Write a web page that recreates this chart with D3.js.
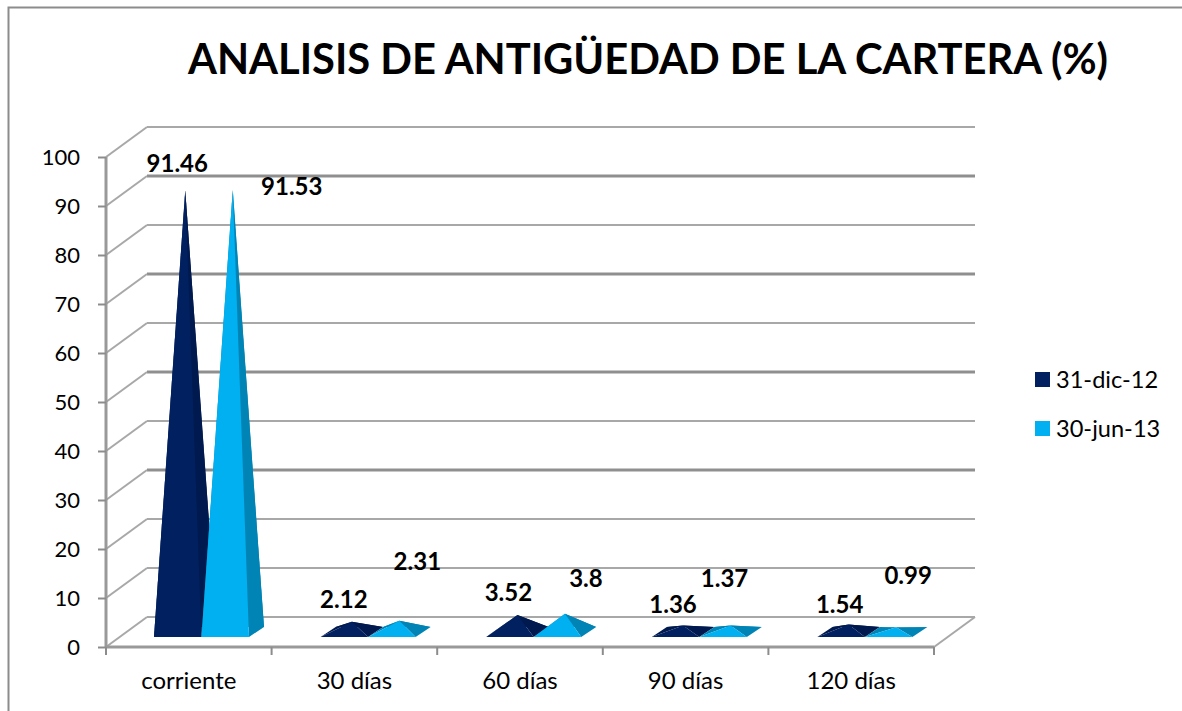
<!DOCTYPE html>
<html><head><meta charset="utf-8">
<script src="https://cdn.jsdelivr.net/npm/d3@7"></script>
<style>html,body{margin:0;padding:0;background:#fff;overflow:hidden}svg{display:block}text{font-family:Lato,"Open Sans",sans-serif;fill:#000}</style>
</head><body><div id="c"></div>
<script>
const categories = ["corriente","30 días","60 días","90 días","120 días"];
const seriesNames = ["31-dic-12","30-jun-13"];
const dic12 = [91.46,2.12,3.52,1.36,1.54];
const jun13 = [91.53,2.31,3.8,1.37,0.99];
const yTicks = d3.range(0,101,10);
const title = "ANALISIS DE ANTIGÜEDAD DE LA CARTERA (%)";

const W=1182,H=711;
const colors=[{front:"#002060",side:"#001a4f"},{front:"#00b0f0",side:"#0084b5"}];
const svg=d3.select("#c").append("svg").attr("width",W).attr("height",H);

// outer frame
svg.append("path").attr("d",`M8.5,${H}V7.5H${W}`).attr("fill","none").attr("stroke","#8c8c8c").attr("stroke-width",2);

svg.append("text").attr("x",648).attr("y",74).attr("text-anchor","middle")
  .attr("font-size",41.7).attr("font-weight",700).text(title);

const y=d3.scaleLinear().domain([0,100]).range([647,157]);
const x=d3.scaleBand().domain(categories).range([106,934]);
const dx=41,dy=30;                       // wall depth
const apex=d3.scaleLinear().domain([0,100]).range([632,149]); // mid-depth height
const thick=new Set([90,70,50,30]);
const gridColor="#8f8f8f", thinColor="#a8a8a8";

// back wall gridlines and left wall diagonals
const grid=svg.append("g");
yTicks.forEach(v=>{
  const t=thick.has(v);
  grid.append("line").attr("x1",106+dx).attr("x2",934+dx)
    .attr("y1",y(v)-dy).attr("y2",y(v)-dy)
    .attr("stroke",t?gridColor:thinColor).attr("stroke-width",t?3:2);
  grid.append("line").attr("x1",106).attr("x2",106+dx)
    .attr("y1",y(v)).attr("y2",y(v)-dy)
    .attr("stroke",thinColor).attr("stroke-width",2);
});
grid.append("line").attr("x1",934).attr("x2",934+dx).attr("y1",y(0)).attr("y2",y(0)-dy)
  .attr("stroke",thinColor).attr("stroke-width",2);

// pyramids
const barW=47.5, bx=15, by=10, front=637;
const groupX=i=>154+i*x.step()+ (i>0?1:0);
const pts=a=>a.map(p=>p.join(",")).join(" ");
[dic12,jun13].forEach((vals,s)=>{
  const g=svg.append("g");
  vals.forEach((v,i)=>{
    const x0=groupX(i)+s*barW, x1=x0+barW;
    const top=[x0+(barW+bx)/2,apex(v)];
    const fl=[x0,front],fr=[x1,front],br=[x1+bx,front-by],bl=[x0+bx,front-by];
    g.append("polygon").attr("points",pts([fl,bl,top])).attr("fill",colors[s].side);
    g.append("polygon").attr("points",pts([bl,br,top])).attr("fill",colors[s].side);
    g.append("polygon").attr("points",pts([fr,br,top])).attr("fill",colors[s].side);
    g.append("polygon").attr("points",pts([fl,fr,top])).attr("fill",colors[s].front);
  });
});

// axes
const axL=svg.append("g").attr("transform","translate(106,0)")
  .call(d3.axisLeft(y).tickValues(yTicks).tickSize(8).tickPadding(18).tickFormat(d3.format("d")));
const axB=svg.append("g").attr("transform","translate(0,647)")
  .call(d3.axisBottom(x).tickSize(0).tickPadding(25));
[axL,axB].forEach(a=>{
  a.selectAll(".domain").attr("stroke","#999").attr("stroke-width",3);
  a.selectAll(".tick line").attr("stroke","#8c8c8c").attr("stroke-width",2);
  a.selectAll("text").attr("font-family","Lato").attr("fill","#000");
});
axL.selectAll("text").attr("font-size",22);
axB.selectAll("text").attr("font-size",24);
axB.selectAll(".domain").attr("d","M106,0H934");
axL.selectAll(".domain").attr("d",`M0,${y(100)}V${y(0)}`);
const bounds=svg.append("g");
d3.range(categories.length+1).forEach(i=>{
  const px=106+i*x.step();
  bounds.append("line").attr("x1",px).attr("x2",px).attr("y1",647).attr("y2",655)
    .attr("stroke","#8c8c8c").attr("stroke-width",2);
});

// data labels, hand-placed in the original: offset from each pyramid tip
const labelOffset=[
  [[-8,-18],[59,5]],
  [[-8,-14],[18,-51]],
  [[-9,-14],[21,-27]],
  [[-10,-12],[-6,-38]],
  [[-9,-12],[12,-43]]
];
[dic12,jun13].forEach((vals,s)=>{
  svg.append("g").selectAll("text").data(vals).join("text")
    .attr("x",(v,i)=>groupX(i)+s*barW+(barW+bx)/2+labelOffset[i][s][0])
    .attr("y",(v,i)=>apex(v)+labelOffset[i][s][1])
    .attr("text-anchor","middle").attr("font-size",24).attr("font-weight",700)
    .text(v=>v);
});

// legend
const leg=svg.append("g").selectAll("g").data(seriesNames).join("g")
  .attr("transform",(d,i)=>`translate(1035,${372+i*49})`);
leg.append("rect").attr("width",15).attr("height",15).attr("fill",(d,i)=>colors[i].front);
leg.append("text").attr("x",21).attr("y",16).attr("font-size",23.6).text(d=>d);
</script></body></html>
